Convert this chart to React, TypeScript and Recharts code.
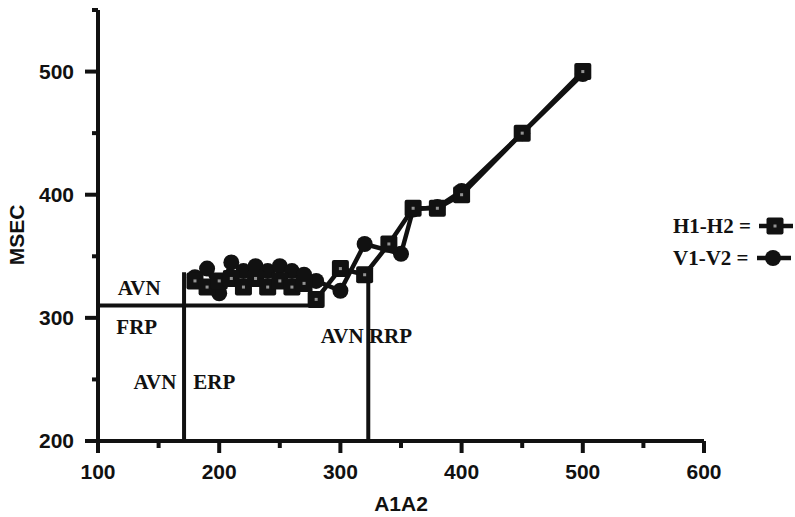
import React from 'react';
import { LineChart, Line, XAxis, YAxis, ReferenceLine, ReferenceDot } from 'recharts';

// A1A2 coupling intervals (ms) and responses (ms)
const h1h2X = [180, 190, 200, 210, 220, 230, 240, 250, 260, 270, 280, 300, 320, 340, 360, 380, 400, 450, 500];
const h1h2Y = [330, 325, 330, 332, 325, 332, 325, 330, 325, 328, 315, 340, 335, 360, 389, 389, 400, 450, 500];

const v1v2X = [180, 190, 200, 210, 220, 230, 240, 250, 260, 270, 280, 300, 320, 350, 360, 380, 400, 450, 500];
const v1v2Y = [333, 340, 320, 345, 338, 342, 338, 342, 338, 335, 330, 322, 360, 352, 388, 390, 403, 450, 498];

const xTicks = [100, 150, 200, 250, 300, 350, 400, 450, 500, 550, 600];
const yTicks = [200, 250, 300, 350, 400, 450, 500, 550];
const xMajor = [100, 200, 300, 400, 500, 600];
const yMajor = [200, 300, 400, 500];

// Refractory period markers
const frpLevel = 310;
const frpEndX = 285;
const erpX = 171;
const erpTop = 337;
const rrpX = 323;
const rrpTop = 335;

const annotations = [
  { text: 'AVN', x: 134, y: 325 },
  { text: 'FRP', x: 132, y: 293 },
  { text: 'AVN', x: 147, y: 248 },
  { text: 'ERP', x: 196, y: 248 },
  { text: 'AVN RRP', x: 321.5, y: 286 },
];

const seriesNames = ['H1-H2 =', 'V1-V2 ='];

const h1h2Data = h1h2X.map((x, i) => ({ x, y: h1h2Y[i] }));
const v1v2Data = v1v2X.map((x, i) => ({ x, y: v1v2Y[i] }));

const INK = '#111';
const SANS = '"Liberation Sans", Arial, sans-serif';
const SERIF = '"Liberation Serif", "Times New Roman", serif';

const renderSquare = (p: any) => {
  const { cx, cy, index } = p;
  if (cx == null || cy == null) return <g key={`s-${index}`} />;
  return (
    <g key={`s-${index}`}>
      <rect x={cx - 8.5} y={cy - 8.5} width={17} height={17} fill={INK} rx={2} />
      <rect x={cx - 1.5} y={cy - 1.5} width={3} height={3} fill="#fff" opacity={0.55} />
    </g>
  );
};

const renderCircle = (p: any) => {
  const { cx, cy, index } = p;
  if (cx == null || cy == null) return <g key={`c-${index}`} />;
  return <circle key={`c-${index}`} cx={cx} cy={cy} r={8} fill={INK} />;
};

const YTick = (p: any) => {
  const { x, y, payload } = p;
  const major = yMajor.includes(payload.value);
  return (
    <g>
      <line x1={x - (major ? 13 : 6)} x2={x} y1={y} y2={y} stroke={INK} strokeWidth={4} />
      {major && (
        <text x={x - 24} y={y} dy="0.35em" textAnchor="end" fill={INK} fontSize={21} fontWeight={700} fontFamily={SANS}>
          {payload.value}
        </text>
      )}
    </g>
  );
};

const XTick = (p: any) => {
  const { x, y, payload } = p;
  const major = xMajor.includes(payload.value);
  return (
    <g>
      <line x1={x} x2={x} y1={y} y2={y + (major ? 12 : 7)} stroke={INK} strokeWidth={4} />
      {major && (
        <text x={x} y={y + 31} dy="0.35em" textAnchor="middle" fill={INK} fontSize={21} fontWeight={700} fontFamily={SANS}>
          {payload.value}
        </text>
      )}
    </g>
  );
};

const LegendRow = ({ label, kind, top }: { label: string; kind: 'square' | 'circle'; top: number }) => (
  <div style={{ position: 'absolute', left: 673, top, height: 26, display: 'flex', alignItems: 'center' }}>
    <span style={{ fontFamily: SERIF, fontWeight: 700, fontSize: 21, color: INK, whiteSpace: 'pre' }}>{label}</span>
    <svg width={34} height={26} style={{ marginLeft: 8 }}>
      <line x1={0} x2={34} y1={13} y2={13} stroke={INK} strokeWidth={4.5} />
      {kind === 'square' ? (
        <g>
          <rect x={7.5} y={4.5} width={17} height={17} fill={INK} rx={2} />
          <rect x={14.5} y={11.5} width={3} height={3} fill="#fff" opacity={0.55} />
        </g>
      ) : (
        <circle cx={16} cy={13} r={8} fill={INK} />
      )}
    </svg>
  </div>
);

export default function App() {
  return (
    <div style={{ position: 'absolute', left: 0, top: 0, width: 795, height: 517, background: '#fff' }}>
      <LineChart width={795} height={517} margin={{ top: 10, right: 91, left: 0, bottom: 0 }}>
        <XAxis
          dataKey="x"
          type="number"
          domain={[100, 600]}
          ticks={xTicks}
          interval={0}
          height={76}
          tickSize={0}
          tickMargin={0}
          tickLine={false}
          axisLine={{ stroke: INK, strokeWidth: 4 }}
          tick={<XTick />}
          allowDataOverflow
          label={{
            value: 'A1A2',
            position: 'insideBottom',
            offset: 6,
            fill: INK,
            fontSize: 21,
            fontWeight: 700,
            fontFamily: SANS,
          }}
        />
        <YAxis
          dataKey="y"
          type="number"
          domain={[200, 550]}
          ticks={yTicks}
          interval={0}
          width={98}
          tickSize={0}
          tickMargin={0}
          tickLine={false}
          axisLine={{ stroke: INK, strokeWidth: 4 }}
          tick={<YTick />}
          allowDataOverflow
          label={{
            value: 'MSEC',
            content: () => (
              <text
                x={17}
                y={235}
                transform="rotate(-90 17 235)"
                textAnchor="middle"
                dy="0.35em"
                fill={INK}
                fontSize={21}
                fontWeight={700}
                fontFamily={SANS}
              >
                MSEC
              </text>
            ),
          }}
        />
        <ReferenceLine segment={[{ x: 100, y: frpLevel }, { x: frpEndX, y: frpLevel }]} stroke={INK} strokeWidth={4} />
        <ReferenceLine segment={[{ x: erpX, y: 200 }, { x: erpX, y: erpTop }]} stroke={INK} strokeWidth={4} />
        <ReferenceLine segment={[{ x: rrpX, y: 200 }, { x: rrpX, y: rrpTop }]} stroke={INK} strokeWidth={4} />
        <Line
          data={v1v2Data}
          dataKey="y"
          name="V1-V2"
          stroke={INK}
          strokeWidth={4.5}
          dot={renderCircle}
          activeDot={false}
          isAnimationActive={false}
        />
        <Line
          data={h1h2Data}
          dataKey="y"
          name="H1-H2"
          stroke={INK}
          strokeWidth={4.5}
          dot={renderSquare}
          activeDot={false}
          isAnimationActive={false}
        />
        {annotations.map((a, i) => (
          <ReferenceDot
            key={`a-${i}`}
            x={a.x}
            y={a.y}
            r={0}
            stroke="none"
            fill="none"
            label={{
              value: a.text,
              position: 'center',
              fill: INK,
              fontSize: 21,
              fontWeight: 700,
              fontFamily: SERIF,
            }}
          />
        ))}
      </LineChart>
      <LegendRow label={seriesNames[0]} kind="square" top={213} />
      <LegendRow label={seriesNames[1]} kind="circle" top={245} />
    </div>
  );
}
